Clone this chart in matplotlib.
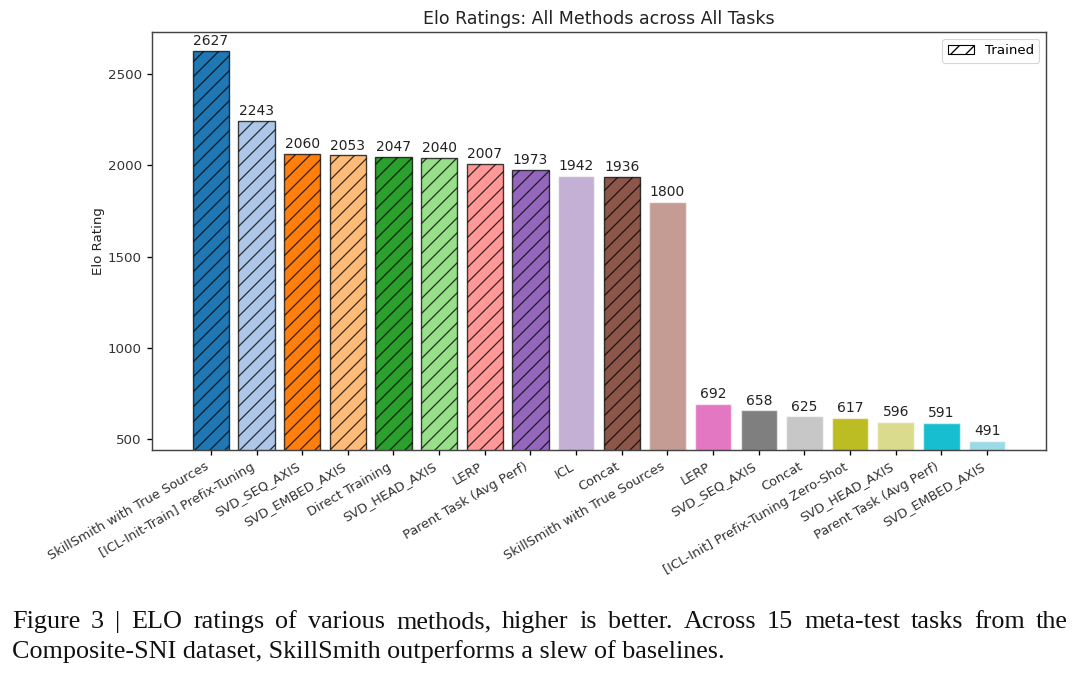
import matplotlib.pyplot as plt
import numpy as np
from matplotlib.patches import Patch

methods = ['SkillSmith with True Sources', '[ICL-Init-Train] Prefix-Tuning', 'SVD_SEQ_AXIS',
           'SVD_EMBED_AXIS', 'Direct Training', 'SVD_HEAD_AXIS', 'LERP', 'Parent Task (Avg Perf)',
           'ICL', 'Concat', 'SkillSmith with True Sources', 'LERP', 'SVD_SEQ_AXIS', 'Concat',
           '[ICL-Init] Prefix-Tuning Zero-Shot', 'SVD_HEAD_AXIS', 'Parent Task (Avg Perf)',
           'SVD_EMBED_AXIS']
elo = [2627, 2243, 2060, 2053, 2047, 2040, 2007, 1973, 1942, 1936, 1800,
       692, 658, 625, 617, 596, 591, 491]
trained = [True, True, True, True, True, True, True, True, False, True, False,
           False, False, False, False, False, False, False]

caption_line1 = 'Figure 3 | ELO ratings of various methods, higher is better.  Across 15 meta-test tasks from the'
caption_line2 = 'Composite-SNI dataset, SkillSmith outperforms a slew of baselines.'

DPI = 135
k = 100 / DPI  # sizes below were tuned at 100 dpi
W, H = 1080, 682

plt.rcParams['hatch.linewidth'] = 0.7
plt.rcParams['xtick.major.size'] = 3.5 * k * 1.1
plt.rcParams['ytick.major.size'] = 3.5 * k * 1.1
plt.rcParams['xtick.major.width'] = 0.8 * k * 1.2
plt.rcParams['ytick.major.width'] = 0.8 * k * 1.2
plt.rcParams['axes.linewidth'] = 0.8 * k * 1.3
colors = plt.cm.tab20(np.linspace(0, 1, len(elo)))

fig = plt.figure(figsize=(W / DPI, H / DPI), dpi=DPI)
ax = fig.add_axes([0.1407, 0.3402, 0.8278, 0.6124])

x = np.arange(len(elo))
for i in range(len(elo)):
    if trained[i]:
        b = ax.bar(x[i], elo[i], width=0.8, color=colors[i], hatch='///',
                   edgecolor=(0, 0, 0, 0.75), linewidth=1.0 * k)
    else:
        b = ax.bar(x[i], elo[i], width=0.8, color=colors[i],
                   edgecolor=(1, 1, 1, 0.6), linewidth=1.0 * k)
    ax.bar_label(b, labels=[str(elo[i])], padding=2 * k, fontsize=10 * k, color='#222222')

ax.set_ylim(min(elo) - 50, max(elo) + 100)
ax.set_yticks([500, 1000, 1500, 2000, 2500])
ax.set_xticks(x)
ax.set_xticklabels(methods, rotation=30, ha='right', fontsize=9.3 * k, color='#333333')
ax.tick_params(axis='x', pad=3.5 * k)
ax.tick_params(axis='y', labelsize=9.6 * k, labelcolor='#333333', pad=3.5 * k)
ax.set_ylabel('Elo Rating', fontsize=9.6 * k, color='#222222', labelpad=1.5)
ax.set_title('Elo Ratings: All Methods across All Tasks', fontsize=12.5 * k, color='#222222', pad=6 * k)

for s in ax.spines.values():
    s.set_color('#444444')

leg_patch = Patch(facecolor='white', edgecolor='black', hatch='///', label='Trained', linewidth=0.8 * k)
leg = ax.legend(handles=[leg_patch], loc='upper right', fontsize=9.6 * k)
leg.get_frame().set_linewidth(0.8 * k)

# caption, first line justified word by word
cap_font = dict(family='Liberation Serif', fontsize=18.8 * k, color='#111111')
left_px, right_px = 12, 1068
words = caption_line1.split()
fig.canvas.draw()
renderer = fig.canvas.get_renderer()
tmp = [fig.text(0, 0, w, **cap_font) for w in words]
widths = [t.get_window_extent(renderer).width for t in tmp]
for t in tmp:
    t.remove()
gap = (right_px - left_px - sum(widths)) / (len(words) - 1)
pos = left_px
for w, wd in zip(words, widths):
    fig.text(pos / W, 1 - 628 / H, w, va='baseline', ha='left', **cap_font)
    pos += wd + gap
fig.text(left_px / W, 1 - 658 / H, caption_line2, va='baseline', ha='left', **cap_font)

fig.savefig('out.png', dpi=DPI)
